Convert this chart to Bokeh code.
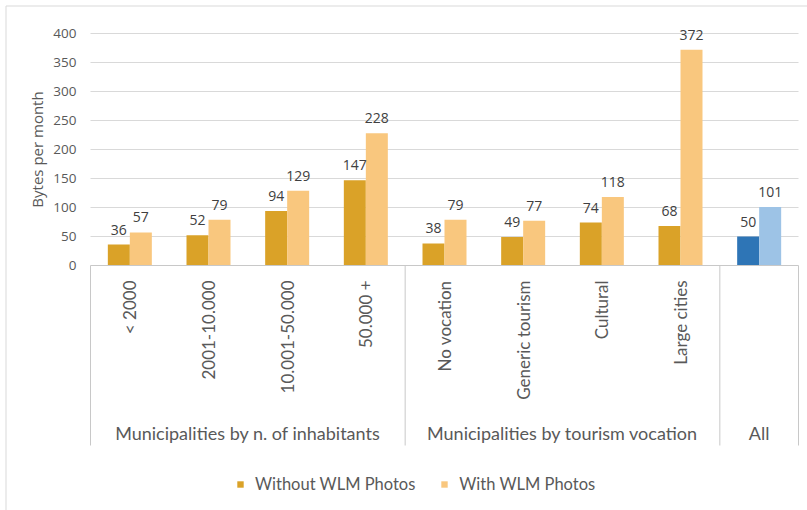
import math

from bokeh.core.properties import value
from bokeh.embed import file_html
from bokeh.models import (ColumnDataSource, FixedTicker, Legend, LegendItem,
                          LinearAxis, Range1d)
from bokeh.plotting import figure
from bokeh.resources import INLINE

# ---- data -----------------------------------------------------------------
groups = ["Municipalities by n. of inhabitants",
          "Municipalities by tourism vocation",
          "All"]
group_sizes = [4, 4, 1]
categories = ["< 2000", "2001-10.000", "10.001-50.000", "50.000 +",
              "No vocation", "Generic tourism", "Cultural", "Large cities", ""]
without_wlm = [36, 52, 94, 147, 38, 49, 74, 68, 50]
with_wlm = [57, 79, 129, 228, 79, 77, 118, 372, 101]
series_names = ["Without WLM Photos", "With WLM Photos"]
without_colors = ["#DAA228"] * 8 + ["#2E75B6"]
with_colors = ["#F9C77E"] * 8 + ["#9DC3E6"]
y_ticks = [0, 50, 100, 150, 200, 250, 300, 350, 400]

# ---- page geometry (screen pixels) ----------------------------------------
W, H = 807, 510
LEFT_PX, RIGHT_PX = 90, 798      # extent of the category axis
ZERO_PX, TOP_PX = 265, 33        # screen rows of y=0 and y=400
n = len(categories)
cat_px = (RIGHT_PX - LEFT_PX) / n
unit_px = (ZERO_PX - TOP_PX) / y_ticks[-1]


def sx(px):
    """screen column -> data x (category i is centred on x=i)"""
    return (px - LEFT_PX) / cat_px - 0.5


def sy(py):
    """screen row -> data y"""
    return (ZERO_PX - py) / unit_px


x_range = Range1d(sx(0), sx(W))
y_range = Range1d(sy(H), sy(0))

TEXT = "#595959"
LABEL = "#404040"
GRID = "#d9d9d9"
AXIS = "#c8c8c8"

p = figure(width=W, height=H, x_range=x_range, y_range=y_range,
           output_backend="svg", toolbar_location=None,
           x_axis_type=None, y_axis_type=None, min_border=0,
           outline_line_color=None, background_fill_color="white",
           border_fill_color="white")

# outer chart border (left and top edges)
p.segment(x0=[sx(5.5), sx(5.5)], y0=[sy(5.5), sy(5.5)],
          x1=[sx(W), sx(5.5)], y1=[sy(5.5), sy(H)],
          line_color=GRID, line_width=1)

# horizontal gridlines
grid_y = y_ticks[1:]
p.segment(x0=[-0.5] * len(grid_y), x1=[n - 0.5] * len(grid_y),
          y0=grid_y, y1=grid_y, line_color=GRID, line_width=1)

# group separators on the category axis
bounds = [-0.5]
for s in group_sizes:
    bounds.append(bounds[-1] + s)
sep_bottom = sy(445)
p.segment(x0=bounds, x1=bounds, y0=[0] * len(bounds),
          y1=[sep_bottom] * len(bounds), line_color=AXIS, line_width=1)

# bars
bar_w = 22 / cat_px
xs = list(range(n))
src = ColumnDataSource(dict(
    x_without=[x - bar_w / 2 for x in xs],
    x_with=[x + bar_w / 2 for x in xs],
    without=without_wlm,
    with_=with_wlm,
    c_without=without_colors,
    c_with=with_colors,
    t_without=[str(v) for v in without_wlm],
    t_with=[str(v) for v in with_wlm],
))
r_without = p.vbar(x="x_without", top="without", width=bar_w, bottom=0,
                   fill_color="c_without", line_color=None, source=src)
r_with = p.vbar(x="x_with", top="with_", width=bar_w, bottom=0,
                fill_color="c_with", line_color=None, source=src)

# value labels above the bars
label_kw = dict(source=src, text_align="center", text_baseline="bottom",
                y_offset=-10, text_color=LABEL,
                text_font=value("Open Sans"), text_font_size="14px")
p.text(x="x_without", y="without", text="t_without", **label_kw)
p.text(x="x_with", y="with_", text="t_with", **label_kw)

# value axis
yaxis = LinearAxis(fixed_location=-0.5, bounds=(y_ticks[0], y_ticks[-1]),
                   ticker=FixedTicker(ticks=y_ticks),
                   axis_line_color=None, major_tick_line_color=None,
                   minor_tick_line_color=None, major_label_standoff=8,
                   major_label_text_font="Open Sans",
                   major_label_text_font_size="13.5px",
                   major_label_text_color=TEXT,
                   axis_label="Bytes per month",
                   axis_label_standoff=3,
                   axis_label_text_font="Open Sans",
                   axis_label_text_font_size="15px",
                   axis_label_text_font_style="normal",
                   axis_label_text_color=TEXT)
p.add_layout(yaxis, "left")

# category axis with rotated sub-category labels
xaxis = LinearAxis(fixed_location=0, bounds=(-0.5, n - 0.5),
                   ticker=FixedTicker(ticks=xs),
                   major_label_overrides={i: c for i, c in enumerate(categories)},
                   major_label_orientation=math.pi / 2,
                   axis_line_color=AXIS, major_tick_line_color=None,
                   minor_tick_line_color=None, major_label_standoff=9,
                   major_label_text_font="Lato",
                   major_label_text_font_size="17px",
                   major_label_text_color=TEXT)
p.add_layout(xaxis, "below")

# group labels
group_x = [(bounds[i] + bounds[i + 1]) / 2 for i in range(len(groups))]
p.text(x=group_x, y=[sy(432)] * len(groups), text=groups,
       text_align="center", text_baseline="middle", text_color=TEXT,
       text_font=value("Lato"), text_font_size="18px")

# legend
legend = Legend(items=[LegendItem(label=series_names[0], renderers=[r_without], index=0),
                       LegendItem(label=series_names[1], renderers=[r_with], index=0)],
                orientation="horizontal", location=(236, 16),
                glyph_width=8, glyph_height=8, label_standoff=11, spacing=25,
                padding=0, margin=0, border_line_color=None,
                background_fill_alpha=0,
                label_text_font="Lato", label_text_font_size="16.5px",
                label_text_color=TEXT)
p.add_layout(legend)

open("out.html", "w").write(file_html(p, INLINE))
